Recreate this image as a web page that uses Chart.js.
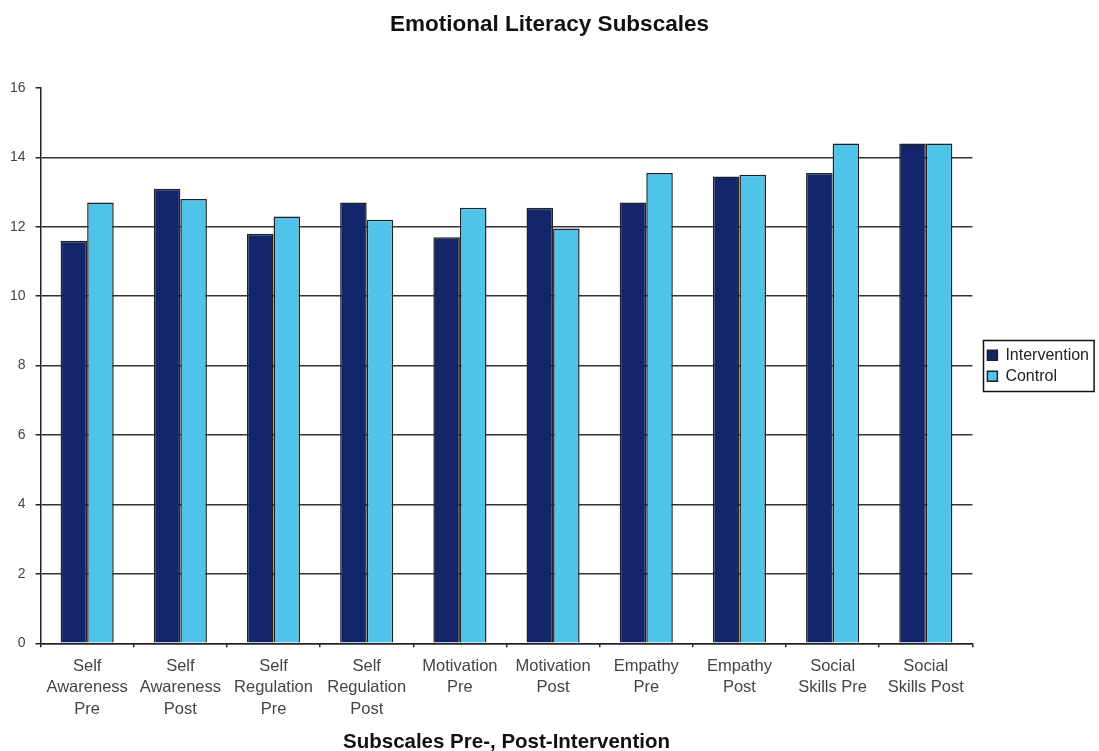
<!DOCTYPE html>
<html>
<head>
<meta charset="utf-8">
<script src="https://cdn.jsdelivr.net/npm/chart.js@4/dist/chart.umd.min.js"></script>
<style>
  html, body { margin: 0; padding: 0; background: #fff; }
  #wrap { width: 1099px; height: 751px; }
</style>
</head>
<body>
<div id="wrap"><canvas id="chart"></canvas></div>
<script>
// ---- data ----
const categories = [
  ['Self', 'Awareness', 'Pre'],
  ['Self', 'Awareness', 'Post'],
  ['Self', 'Regulation', 'Pre'],
  ['Self', 'Regulation', 'Post'],
  ['Motivation', 'Pre'],
  ['Motivation', 'Post'],
  ['Empathy', 'Pre'],
  ['Empathy', 'Post'],
  ['Social', 'Skills Pre'],
  ['Social', 'Skills Post'],
];
const intervention = [11.6, 13.1, 11.8, 12.7, 11.7, 12.55, 12.7, 13.45, 13.55, 14.4];
const control = [12.7, 12.8, 12.3, 12.2, 12.55, 11.95, 13.55, 13.5, 14.4, 14.4];
const yTicks = [0, 2, 4, 6, 8, 10, 12, 14, 16];

const FONT = 'Liberation Sans, Arial, sans-serif';

// frame round the legend items
const legendBorder = {
  id: 'legendBorder',
  afterDraw(chart) {
    const boxes = chart.legend && chart.legend.legendHitBoxes;
    if (!boxes || !boxes.length) return;
    const left = Math.min(...boxes.map((b) => b.left));
    const top = Math.min(...boxes.map((b) => b.top));
    const right = Math.max(...boxes.map((b) => b.left + b.width));
    const bottom = Math.max(...boxes.map((b) => b.top + b.height));
    const c = chart.ctx;
    c.save();
    c.strokeStyle = '#111';
    c.lineWidth = 1.5;
    c.strokeRect(Math.round(left - 4) + 0.5, Math.round(top - 7) + 0.5, right - left + 9, bottom - top + 14);
    c.restore();
  },
};

const ctx = document.getElementById('chart').getContext('2d');

new Chart(ctx, {
  type: 'bar',
  data: {
    labels: categories,
    datasets: [
      {
        label: 'Intervention',
        data: intervention,
        backgroundColor: '#13266b',
        borderColor: '#222',
        borderWidth: 1.5,
        borderSkipped: 'bottom',
      },
      {
        label: 'Control',
        data: control,
        backgroundColor: '#50c3ea',
        borderColor: '#222',
        borderWidth: 1.5,
        borderSkipped: 'bottom',
      },
    ],
  },
  plugins: [legendBorder],
  options: {
    responsive: true,
    maintainAspectRatio: false,
    animation: false,
    layout: { padding: { left: 0, right: 0, top: 0, bottom: 0 } },
    datasets: {
      bar: { categoryPercentage: 0.57, barPercentage: 1.0 },
    },
    plugins: {
      title: {
        display: true,
        text: 'Emotional Literacy Subscales',
        color: '#111',
        font: { family: FONT, size: 22.5, weight: 'bold', lineHeight: 1.2 },
        padding: { top: 11, bottom: 50 },
      },
      legend: {
        position: 'right',
        fullSize: false,
        labels: {
          color: '#222',
          boxWidth: 10,
          boxHeight: 10,
          padding: 5,
          font: { family: FONT, size: 16 },
        },
      },
      tooltip: { enabled: false },
    },
    scales: {
      x: {
        border: { color: '#222', width: 1.5 },
        grid: {
          offset: true,
          drawOnChartArea: false,
          tickLength: 4,
          tickColor: '#222',
          lineWidth: 1.5,
        },
        ticks: {
          color: '#444',
          maxRotation: 0,
          autoSkip: false,
          padding: 8,
          font: { family: FONT, size: 16.5, lineHeight: 1.32 },
        },
        title: {
          display: true,
          text: 'Subscales Pre-, Post-Intervention',
          color: '#111',
          font: { family: FONT, size: 20.5, weight: 'bold', lineHeight: 0.8 },
          padding: { top: 6, bottom: 0 },
        },
      },
      y: {
        min: 0,
        max: 16,
        afterBuildTicks(axis) {
          axis.ticks = yTicks.map((v) => ({ value: v }));
        },
        border: { color: '#222', width: 1.5 },
        grid: {
          color: (c) => (c.tick && c.tick.value === 16 ? 'rgba(0,0,0,0)' : '#333'),
          lineWidth: 1.5,
          tickLength: 5,
          tickColor: '#222',
        },
        ticks: {
          color: '#444',
          padding: 10,
          font: { family: FONT, size: 14 },
        },
      },
      // empty right axis: only keeps a gap between the plot and the legend
      gap: {
        position: 'right',
        display: true,
        grid: { display: false },
        border: { display: false },
        ticks: { display: false },
        afterFit(axis) {
          axis.width = 10;
        },
      },
    },
  },
});
</script>
</body>
</html>
